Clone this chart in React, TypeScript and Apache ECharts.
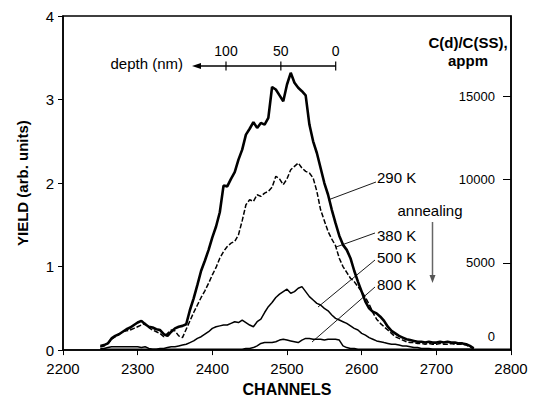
import React, { useEffect, useRef } from "react";
import * as echarts from "echarts";

const channels = [
  2250, 2255, 2260, 2265, 2270, 2275, 2280, 2285, 2290, 2295,
  2300, 2305, 2310, 2315, 2320, 2325, 2330, 2335, 2340, 2345,
  2350, 2355, 2360, 2365, 2370, 2375, 2380, 2385, 2390, 2395,
  2400, 2405, 2410, 2415, 2420, 2425, 2430, 2435, 2440, 2445,
  2450, 2455, 2460, 2465, 2470, 2475, 2480, 2485, 2490, 2495,
  2500, 2505, 2510, 2515, 2520, 2525, 2530, 2535, 2540, 2545,
  2550, 2555, 2560, 2565, 2570, 2575, 2580, 2585, 2590, 2595,
  2600, 2605, 2610, 2615, 2620, 2625, 2630, 2635, 2640, 2645,
  2650, 2655, 2660, 2665, 2670, 2675, 2680, 2685, 2690, 2695,
  2700, 2705, 2710, 2715, 2720, 2725, 2730, 2735, 2740, 2745,
  2750, 2755, 2760, 2765, 2770, 2775, 2780, 2785, 2790, 2795,
  2800,
];

const yield290K = [
  0.05, 0.06, 0.08, 0.14, 0.17, 0.19, 0.22, 0.25, 0.27, 0.30,
  0.33, 0.35, 0.31, 0.28, 0.27, 0.25, 0.24, 0.19, 0.17, 0.22,
  0.26, 0.28, 0.29, 0.31, 0.48, 0.62, 0.78, 0.95, 1.07, 1.20,
  1.35, 1.48, 1.65, 1.97, 1.96, 2.05, 2.13, 2.28, 2.40, 2.58,
  2.65, 2.73, 2.66, 2.72, 2.70, 2.78, 3.15, 3.12, 3.05, 2.98,
  3.18, 3.32, 3.20, 3.14, 3.10, 3.05, 2.70, 2.50, 2.36, 2.18,
  2.00, 1.86, 1.68, 1.52, 1.37, 1.26, 1.20, 1.10, 0.95, 0.82,
  0.70, 0.58, 0.50, 0.46, 0.44, 0.40, 0.35, 0.28, 0.23, 0.20,
  0.17, 0.15, 0.13, 0.12, 0.11, 0.10, 0.10, 0.09, 0.10, 0.09,
  0.09, 0.10, 0.09, 0.10, 0.09, 0.09, 0.08, 0.08, 0.07, 0.05,
  0.02, null, null, null, null, null, null, null, null, null,
  null,
];

const yield380K = [
  0.04, 0.05, 0.08, 0.13, 0.16, 0.19, 0.22, 0.23, 0.24, 0.26,
  0.28, 0.30, 0.32, 0.27, 0.24, 0.22, 0.20, 0.16, 0.20, 0.24,
  0.23, 0.17, 0.15, 0.25, 0.35, 0.45, 0.54, 0.63, 0.71, 0.80,
  0.90, 0.99, 1.10, 1.18, 1.24, 1.28, 1.30, 1.38, 1.55, 1.74,
  1.80, 1.78, 1.86, 1.84, 1.88, 1.90, 1.95, 2.08, 2.05, 1.98,
  2.05, 2.16, 2.20, 2.24, 2.18, 2.14, 2.12, 2.06, 1.90, 1.68,
  1.55, 1.42, 1.33, 1.25, 1.10, 1.00, 0.93, 0.86, 0.82, 0.76,
  0.70, 0.63, 0.55, 0.45, 0.37, 0.32, 0.28, 0.24, 0.20, 0.16,
  0.14, 0.12, 0.10, 0.09, 0.09, 0.08, 0.08, 0.07, 0.08, 0.07,
  0.07, 0.08, 0.07, 0.07, 0.08, 0.07, 0.07, 0.07, 0.06, 0.04,
  0.02, null, null, null, null, null, null, null, null, null,
  null,
];

const yield500K = [
  0.02, 0.02, 0.03, 0.04, 0.04, 0.04, 0.04, 0.04, 0.04, 0.04,
  0.04, 0.03, 0.04, 0.02, 0.01, 0.01, 0.02, 0.02, 0.03, 0.04,
  0.04, 0.05, 0.06, 0.07, 0.09, 0.11, 0.14, 0.16, 0.19, 0.22,
  0.26, 0.28, 0.29, 0.30, 0.30, 0.32, 0.34, 0.33, 0.36, 0.33,
  0.30, 0.28, 0.34, 0.37, 0.45, 0.52, 0.57, 0.63, 0.67, 0.70,
  0.73, 0.68, 0.70, 0.74, 0.76, 0.70, 0.64, 0.60, 0.56, 0.54,
  0.50, 0.47, 0.42, 0.38, 0.36, 0.34, 0.32, 0.29, 0.26, 0.24,
  0.20, 0.18, 0.15, 0.13, 0.11, 0.10, 0.09, 0.08, 0.07, 0.07,
  0.06, 0.05, 0.05, 0.04, 0.03, 0.03, 0.02, 0.02, 0.02, 0.01,
  0.01, 0.01, 0.01, 0.01, 0.01, 0.01, 0.01, 0.01, 0.01, 0.01,
  0.01, null, null, null, null, null, null, null, null, null,
  null,
];

const yield800K = [
  0.01, 0.01, 0.01, 0.01, 0.01, 0.01, 0.01, 0.01, 0.01, 0.01,
  0.01, 0.01, 0.01, 0.01, 0.01, 0.01, 0.01, 0.01, 0.01, 0.01,
  0.01, 0.01, 0.01, 0.01, 0.01, 0.01, 0.01, 0.01, 0.01, 0.01,
  0.01, 0.01, 0.01, 0.01, 0.01, 0.01, 0.01, 0.01, 0.01, 0.02,
  0.02, 0.03, 0.05, 0.08, 0.09, 0.09, 0.09, 0.10, 0.12, 0.13,
  0.12, 0.11, 0.10, 0.09, 0.12, 0.14, 0.14, 0.13, 0.13, 0.13,
  0.12, 0.13, 0.13, 0.13, 0.12, 0.05, 0.03, 0.02, 0.02, 0.01,
  0.01, 0.01, 0.01, 0.01, 0.01, 0.01, 0.01, 0.01, 0.01, 0.01,
  0.01, 0.01, 0.01, 0.01, 0.01, 0.01, 0.01, 0.01, 0.01, 0.01,
  0.01, 0.01, 0.01, 0.01, 0.01, 0.01, 0.01, 0.01, 0.01, 0.01,
  0.01, 0.01, 0.01, 0.01, 0.01, 0.01, 0.01, 0.01, 0.01, 0.01,
  0.01,
];

const xTicks = [2200, 2300, 2400, 2500, 2600, 2700, 2800];
const yTicks = [0, 1, 2, 3, 4];
const rightTicks = [0, 5000, 10000, 15000];
const depthTicks = [100, 50, 0];

const FONT = "'Liberation Sans', Arial, Helvetica, sans-serif";

// grid geometry (pixels)
const G_LEFT = 63;
const G_TOP = 16;
const G_RIGHT = 26;
const G_BOTTOM = 48;

function pairs(vals: (number | null)[]) {
  return channels.map((c, i) => [c, vals[i]]);
}

export default function App() {
  const ref = useRef<HTMLDivElement>(null);

  useEffect(() => {
    if (!ref.current) return;
    const chart = echarts.init(ref.current, null, { renderer: "svg" });

    // depth scale: depth (nm) -> pixel x along the top annotation axis
    const depthX = (d: number) => 335.7 - d * 1.097;
    const DY = 66;

    const graphic: any[] = [];
    graphic.push({
      type: "line",
      shape: { x1: 199, y1: DY, x2: depthX(0), y2: DY },
      style: { stroke: "#000", lineWidth: 1.5 },
    });
    graphic.push({
      type: "polygon",
      shape: { points: [[192, DY], [201, DY - 3], [201, DY + 3]] },
      style: { fill: "#000" },
    });
    depthTicks.forEach((d) => {
      graphic.push({
        type: "line",
        shape: { x1: depthX(d), y1: DY - 4.5, x2: depthX(d), y2: DY + 4.5 },
        style: { stroke: "#000", lineWidth: 1.2 },
      });
      graphic.push({
        type: "text",
        x: depthX(d),
        y: 51,
        style: {
          text: String(d),
          font: `14px ${FONT}`,
          fill: "#000",
          align: "center",
          verticalAlign: "middle",
        },
      });
    });
    graphic.push({
      type: "text",
      x: 183,
      y: 63,
      style: {
        text: "depth (nm)",
        font: `15px ${FONT}`,
        fill: "#000",
        align: "right",
        verticalAlign: "middle",
      },
    });

    // right axis title
    graphic.push({
      type: "text",
      x: 468,
      y: 42,
      style: {
        text: "C(d)/C(SS),",
        font: `bold 15px ${FONT}`,
        fill: "#000",
        align: "center",
        verticalAlign: "middle",
      },
    });
    graphic.push({
      type: "text",
      x: 468,
      y: 60,
      style: {
        text: "appm",
        font: `bold 15px ${FONT}`,
        fill: "#000",
        align: "center",
        verticalAlign: "middle",
      },
    });

    // series labels with leader lines
    const labels = [
      { t: "290 K", y: 177, l: [376, 182, 328, 200] },
      { t: "380 K", y: 235, l: [375, 233, 336, 247] },
      { t: "500 K", y: 257, l: [375, 260, 318, 307] },
      { t: "800 K", y: 284, l: [375, 287, 312, 342] },
    ];
    labels.forEach((lb) => {
      graphic.push({
        type: "text",
        x: 377,
        y: lb.y,
        style: {
          text: lb.t,
          font: `15px ${FONT}`,
          fill: "#000",
          align: "left",
          verticalAlign: "middle",
        },
      });
      graphic.push({
        type: "line",
        shape: { x1: lb.l[0], y1: lb.l[1], x2: lb.l[2], y2: lb.l[3] },
        style: { stroke: "#000", lineWidth: 0.9 },
      });
    });

    // annealing arrow
    graphic.push({
      type: "text",
      x: 430,
      y: 210,
      style: {
        text: "annealing",
        font: `15px ${FONT}`,
        fill: "#000",
        align: "center",
        verticalAlign: "middle",
      },
    });
    graphic.push({
      type: "line",
      shape: { x1: 432.5, y1: 222, x2: 432.5, y2: 276 },
      style: { stroke: "#666", lineWidth: 1.5 },
    });
    graphic.push({
      type: "polygon",
      shape: { points: [[429.5, 275], [435.5, 275], [432.5, 283]] },
      style: { fill: "#555" },
    });

    const option: any = {
      animation: false,
      backgroundColor: "#fff",
      textStyle: { fontFamily: FONT },
      grid: {
        left: G_LEFT,
        top: G_TOP,
        right: G_RIGHT,
        bottom: G_BOTTOM,
        show: true,
        borderColor: "#000",
        borderWidth: 1.5,
        backgroundColor: "transparent",
      },
      xAxis: {
        type: "value",
        min: xTicks[0],
        max: xTicks[xTicks.length - 1],
        interval: 100,
        name: "CHANNELS",
        nameLocation: "middle",
        nameGap: 29,
        nameTextStyle: { fontFamily: FONT, fontWeight: "bold", fontSize: 16, color: "#000" },
        axisLine: { show: true, lineStyle: { color: "#000", width: 1.5 } },
        axisTick: { show: true, length: 5, lineStyle: { color: "#000", width: 1 } },
        axisLabel: {
          fontFamily: FONT,
          fontSize: 15,
          color: "#000",
          margin: 11,
          formatter: (v: number) => String(v),
        },
        splitLine: { show: false },
      },
      yAxis: [
        {
          type: "value",
          min: yTicks[0],
          max: yTicks[yTicks.length - 1],
          interval: 1,
          name: "YIELD (arb. units)",
          nameLocation: "middle",
          nameGap: 33,
          nameRotate: 90,
          nameTextStyle: { fontFamily: FONT, fontWeight: "bold", fontSize: 15, color: "#000" },
          axisLine: { show: true, lineStyle: { color: "#000", width: 1.5 } },
          axisTick: { show: true, length: 5, lineStyle: { color: "#000", width: 1 } },
          axisLabel: {
            fontFamily: FONT,
            fontSize: 15,
            color: "#000",
            margin: 9,
            formatter: (v: number) => String(v),
          },
          splitLine: { show: false },
        },
        {
          type: "value",
          position: "right",
          min: -240,
          max: 19840,
          axisLine: { show: true, onZero: false, lineStyle: { color: "#000", width: 1.5 } },
          axisTick: {
            show: true,
            inside: true,
            length: 8,
            customValues: rightTicks.slice(1),
            lineStyle: { color: "#000", width: 1 },
          },
          axisLabel: {
            inside: true,
            margin: 16,
            customValues: rightTicks,
            fontFamily: FONT,
            fontSize: 13,
            color: "#000",
            formatter: (v: number) => (v === 0 ? "{z|0}" : String(v)),
            rich: {
              z: { fontFamily: FONT, fontSize: 13, color: "#000", padding: [0, 0, 20, 0] },
            },
          },
          splitLine: { show: false },
        },
      ],
      series: [
        {
          name: "800 K",
          type: "line",
          data: pairs(yield800K),
          showSymbol: false,
          lineStyle: { color: "#000", width: 1.5 },
          z: 2,
        },
        {
          name: "500 K",
          type: "line",
          data: pairs(yield500K),
          showSymbol: false,
          lineStyle: { color: "#000", width: 1.5 },
          z: 3,
        },
        {
          name: "380 K",
          type: "line",
          data: pairs(yield380K),
          showSymbol: false,
          lineStyle: { color: "#000", width: 1.5, type: [5, 2] },
          z: 4,
        },
        {
          name: "290 K",
          type: "line",
          data: pairs(yield290K),
          showSymbol: false,
          lineStyle: { color: "#000", width: 2.6 },
          z: 5,
        },
      ],
      graphic,
    };

    chart.setOption(option);
    return () => chart.dispose();
  }, []);

  return <div ref={ref} style={{ width: 537, height: 402, position: "absolute", left: 0, top: 0 }} />;
}
